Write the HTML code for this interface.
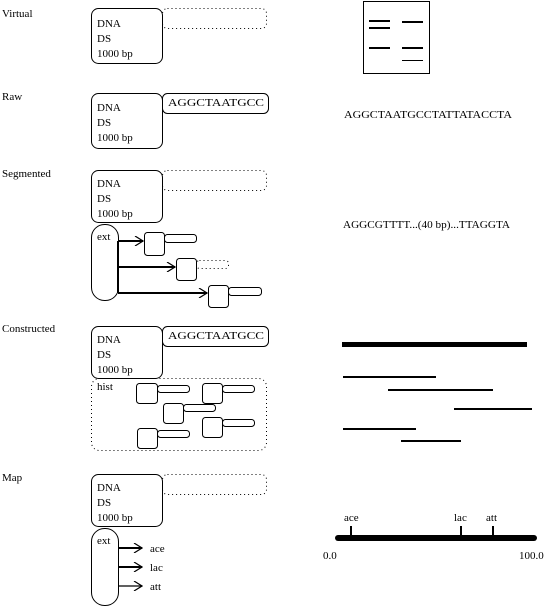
<!DOCTYPE html>
<html><head><style>
body{margin:0;background:#fff;}
svg{display:block;}
text{font-family:"Liberation Serif",serif;font-size:11px;fill:#000;}
</style></head><body>
<svg width="551" height="606" viewBox="0 0 551 606" xmlns="http://www.w3.org/2000/svg">
<defs>
<marker id="ah" markerWidth="10" markerHeight="10" refX="9" refY="5" orient="auto" markerUnits="userSpaceOnUse">
<path d="M1,0 L9,5 L1,10" fill="none" stroke="#000" stroke-width="1.2"/>
</marker>
</defs>
<g fill="none" stroke="#000" stroke-width="1">
<rect x="91.5" y="8.5" width="71" height="55" rx="7"/>
<rect x="162.5" y="8.5" width="104" height="20" rx="5" stroke-dasharray="1,3"/>
<rect x="91.5" y="93.5" width="71" height="55" rx="7"/>
<rect x="162.5" y="93.5" width="106" height="20" rx="5"/>
<rect x="91.5" y="170.5" width="71" height="52" rx="7"/>
<rect x="162.5" y="170.5" width="104" height="20" rx="5" stroke-dasharray="1,3"/>
<rect x="91.5" y="224.5" width="27" height="76" rx="13"/>
<rect x="144.5" y="232.5" width="20" height="23" rx="3"/>
<rect x="164.5" y="234.5" width="32" height="8" rx="3"/>
<rect x="176.5" y="258.5" width="20" height="22" rx="3"/>
<rect x="196.5" y="260.5" width="32" height="8" rx="3" stroke-dasharray="1,3"/>
<rect x="208.5" y="285.5" width="20" height="22" rx="3"/>
<rect x="228.5" y="287.5" width="33" height="8" rx="3"/>
<rect x="91.5" y="326.5" width="71" height="52" rx="7"/>
<rect x="162.5" y="326.5" width="106" height="20" rx="5"/>
<rect x="91.5" y="378.5" width="175" height="72" rx="8" stroke-dasharray="1,3"/>
<rect x="136.5" y="383.5" width="21" height="20" rx="3"/>
<rect x="157.5" y="385.5" width="32" height="7" rx="3"/>
<rect x="202.5" y="383.5" width="20" height="20" rx="3"/>
<rect x="222.5" y="385.5" width="32" height="7" rx="3"/>
<rect x="163.5" y="403.5" width="20" height="20" rx="3"/>
<rect x="183.5" y="404.5" width="32" height="7" rx="3"/>
<rect x="202.5" y="417.5" width="20" height="20" rx="3"/>
<rect x="222.5" y="419.5" width="32" height="7" rx="3"/>
<rect x="137.5" y="428.5" width="20" height="20" rx="3"/>
<rect x="157.5" y="430.5" width="32" height="7" rx="3"/>
<rect x="91.5" y="474.5" width="71" height="52" rx="7"/>
<rect x="162.5" y="474.5" width="104" height="20" rx="5" stroke-dasharray="1,3"/>
<rect x="91.5" y="528.5" width="27" height="77" rx="13"/>
<rect x="363.5" y="1.5" width="66" height="72"/>
</g>
<g stroke="#000" stroke-width="2" fill="none">
<path d="M118,241 H143" marker-end="url(#ah)"/>
<path d="M118,267 H175" marker-end="url(#ah)"/>
<path d="M118,293 H207" marker-end="url(#ah)"/>
<path d="M118,241 V293"/>
<path d="M118,548 H142" marker-end="url(#ah)"/>
<path d="M118,567 H142" marker-end="url(#ah)"/>
<path d="M118,586 H142" stroke-width="1.2" marker-end="url(#ah)"/>
</g>
<g stroke="#000" shape-rendering="crispEdges">
<path d="M369,21 H390 M369,28 H390 M369,48 H390 M402,22 H423 M402,48 H423" stroke-width="2"/>
<path d="M402,60.5 H423" stroke-width="1"/>
</g>
<g stroke="#000">
<path d="M342,344.5 H527" stroke-width="5"/>
<path d="M343,377 H436 M388,390 H493 M454,409 H532 M343,429 H416 M401,441 H461" stroke-width="2"/>
<path d="M338,538 H534" stroke-width="6" stroke-linecap="round"/>
<path d="M351,526 V538 M461,526 V538 M493,526 V538" stroke-width="2"/>
</g>
<text x="2" y="17">Virtual</text>
<text x="2" y="100">Raw</text>
<text x="2" y="177">Segmented</text>
<text x="2" y="332">Constructed</text>
<text x="2" y="481">Map</text>
<g>
<text x="97" y="27">DNA</text><text x="97" y="42">DS</text><text x="97" y="57">1000 bp</text>
<text x="97" y="111">DNA</text><text x="97" y="126">DS</text><text x="97" y="141">1000 bp</text>
<text x="97" y="187">DNA</text><text x="97" y="202">DS</text><text x="97" y="217">1000 bp</text>
<text x="97" y="343">DNA</text><text x="97" y="358">DS</text><text x="97" y="373">1000 bp</text>
<text x="97" y="491">DNA</text><text x="97" y="506">DS</text><text x="97" y="521">1000 bp</text>
</g>
<text x="168" y="106" textLength="96" lengthAdjust="spacingAndGlyphs">AGGCTAATGCC</text>
<text x="168" y="339" textLength="96" lengthAdjust="spacingAndGlyphs">AGGCTAATGCC</text>
<text x="97" y="240">ext</text>
<text x="97" y="390">hist</text>
<text x="97" y="544">ext</text>
<text x="150" y="552">ace</text>
<text x="150" y="571">lac</text>
<text x="150" y="590">att</text>
<text x="344" y="118" textLength="168" lengthAdjust="spacingAndGlyphs">AGGCTAATGCCTATTATACCTA</text>
<text x="343" y="228" textLength="167" lengthAdjust="spacingAndGlyphs">AGGCGTTTT...(40 bp)...TTAGGTA</text>
<text x="344" y="521">ace</text>
<text x="454" y="521">lac</text>
<text x="486" y="521">att</text>
<text x="323" y="559">0.0</text>
<text x="519" y="559">100.0</text>
</svg>
</body></html>
